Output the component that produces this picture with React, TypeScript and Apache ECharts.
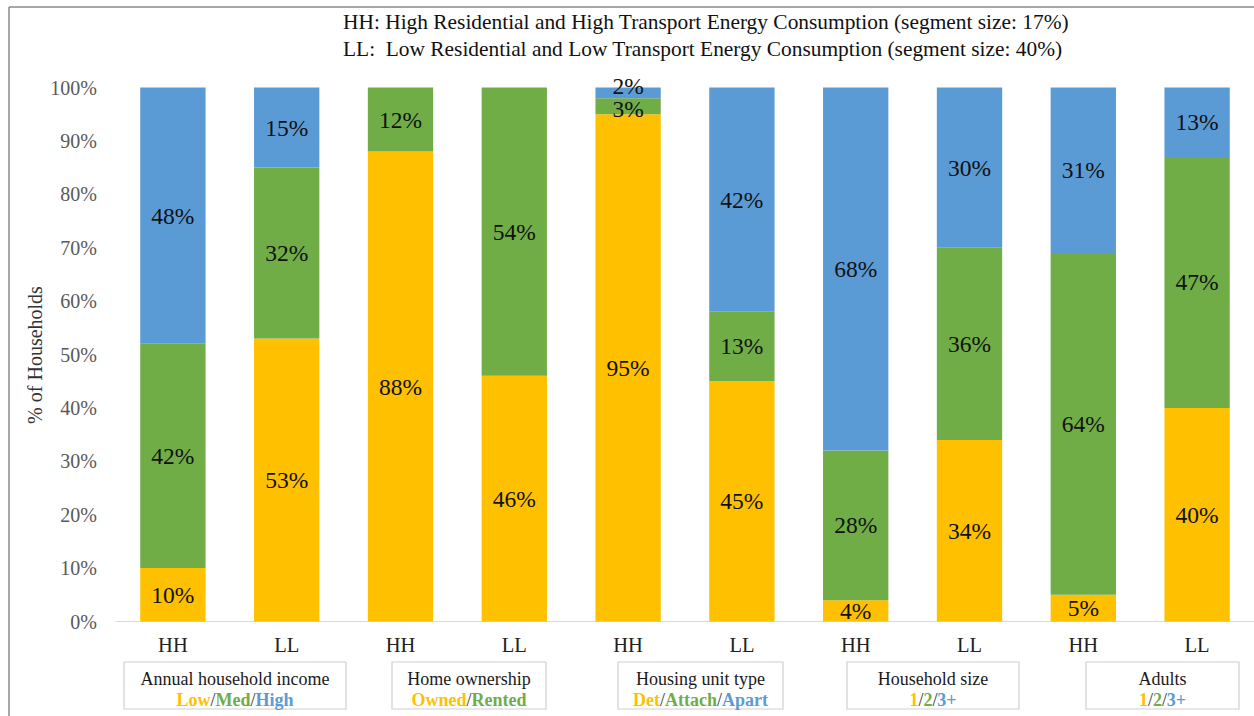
import React, { useEffect, useRef } from "react";
import * as echarts from "echarts";

const categories = ["HH", "LL", "HH", "LL", "HH", "LL", "HH", "LL", "HH", "LL"];
const yellowValues = [10, 53, 88, 46, 95, 45, 4, 34, 5, 40];
const greenValues = [42, 32, 12, 54, 3, 13, 28, 36, 64, 47];
const blueValues: (number | null)[] = [48, 15, null, null, 2, 42, 68, 30, 31, 13];
const yTicks = [0, 10, 20, 30, 40, 50, 60, 70, 80, 90, 100];
const titleLines = [
  "HH: High Residential and High Transport Energy Consumption (segment size: 17%)",
  "LL:  Low Residential and Low Transport Energy Consumption (segment size: 40%)",
];
const groupTitles = [
  "Annual household income",
  "Home ownership",
  "Housing unit type",
  "Household size",
  "Adults",
];
const groupParts: string[][] = [
  ["Low", "Med", "High"],
  ["Owned", "Rented"],
  ["Det", "Attach", "Apart"],
  ["1", "2", "3+"],
  ["1", "2", "3+"],
];
const boxX: [number, number][] = [
  [124, 346],
  [392, 546],
  [618, 783],
  [847, 1019],
  [1086, 1239],
];

const YELLOW = "#FFC000";
const GREEN = "#70AD47";
const BLUE = "#5B9BD5";
const FONT = "'Liberation Serif', 'Times New Roman', serif";

export default function App() {
  const ref = useRef<HTMLDivElement>(null);
  useEffect(() => {
    if (!ref.current) return;
    const chart = echarts.init(ref.current, undefined, { renderer: "svg" });
    const keys = ["y", "g", "b"];
    const graphics: any[] = [
      { type: "line", shape: { x1: 9, y1: 7, x2: 1254, y2: 7 }, style: { stroke: "#8a8a8a", lineWidth: 1.5 } },
      { type: "line", shape: { x1: 9, y1: 7, x2: 9, y2: 716 }, style: { stroke: "#8a8a8a", lineWidth: 1.5 } },
      {
        type: "text",
        x: 343,
        y: 22,
        style: { text: titleLines[0], font: `21.4px ${FONT}`, fill: "#111", verticalAlign: "middle" },
      },
      {
        type: "text",
        x: 343,
        y: 49,
        style: { text: titleLines[1], font: `21.4px ${FONT}`, fill: "#111", verticalAlign: "middle" },
      },
      {
        type: "text",
        x: 35,
        y: 355,
        rotation: Math.PI / 2,
        style: {
          text: "% of Households",
          font: `20px ${FONT}`,
          fill: "#333",
          align: "center",
          verticalAlign: "middle",
        },
      },
    ];
    boxX.forEach(([x1, x2], i) => {
      const cx = (x1 + x2) / 2;
      graphics.push({
        type: "rect",
        shape: { x: x1, y: 662, width: x2 - x1, height: 47 },
        style: { fill: "#fff", stroke: "#d0d0d0", lineWidth: 1.2 },
      });
      graphics.push({
        type: "text",
        x: cx,
        y: 679,
        style: {
          text: groupTitles[i],
          font: `18px ${FONT}`,
          fill: "#1a1a1a",
          align: "center",
          verticalAlign: "middle",
        },
      });
      const parts = groupParts[i];
      const txt = parts.map((p, j) => `{${keys[j]}|${p}}`).join("{s|/}");
      graphics.push({
        type: "text",
        x: cx,
        y: 700,
        style: {
          text: txt,
          align: "center",
          verticalAlign: "middle",
          rich: {
            y: { fill: YELLOW, font: `bold 18px ${FONT}` },
            g: { fill: GREEN, font: `bold 18px ${FONT}` },
            b: { fill: BLUE, font: `bold 18px ${FONT}` },
            s: { fill: "#333", font: `18px ${FONT}` },
          },
        },
      });
    });

    const label = {
      show: true,
      position: "inside",
      formatter: (p: any) => (p.value == null ? "" : `${p.value}%`),
      fontFamily: FONT,
      fontSize: 23.5,
      color: "#111",
    };
    const mk = (name: string, values: (number | null)[], color: string, offsets: Record<number, number[]>) => ({
      name,
      type: "bar",
      stack: "total",
      data: values.map((v, i) =>
        offsets[i] ? { value: v, label: { offset: offsets[i] } } : v
      ),
      barWidth: "57.4%",
      itemStyle: { color },
      label,
    });
    chart.setOption({
      animation: false,
      grid: { left: 116, top: 87.5, width: 1149.5, height: 534, containLabel: false },
      xAxis: {
        type: "category",
        data: categories,
        axisLine: { lineStyle: { color: "#d9d9d9", width: 1 } },
        axisTick: { show: false },
        axisLabel: { fontFamily: FONT, fontSize: 20.5, color: "#222", margin: 13 },
      },
      yAxis: {
        type: "value",
        min: yTicks[0],
        max: yTicks[yTicks.length - 1],
        interval: 10,
        splitLine: { show: false },
        axisLine: { show: false },
        axisTick: { show: false },
        axisLabel: {
          fontFamily: FONT,
          fontSize: 20,
          color: "#595959",
          margin: 19,
          formatter: (v: number) => `${v}%`,
        },
      },
      series: [
        mk("Low", yellowValues, YELLOW, {}),
        mk("Med", greenValues, GREEN, { 4: [0, 3] }),
        mk("High", blueValues, BLUE, { 4: [0, -7] }),
      ],
      graphic: graphics,
    });
    return () => chart.dispose();
  }, []);
  return (
    <div
      ref={ref}
      style={{ position: "fixed", left: 0, top: 0, width: 1254, height: 716, background: "#fff" }}
    />
  );
}
